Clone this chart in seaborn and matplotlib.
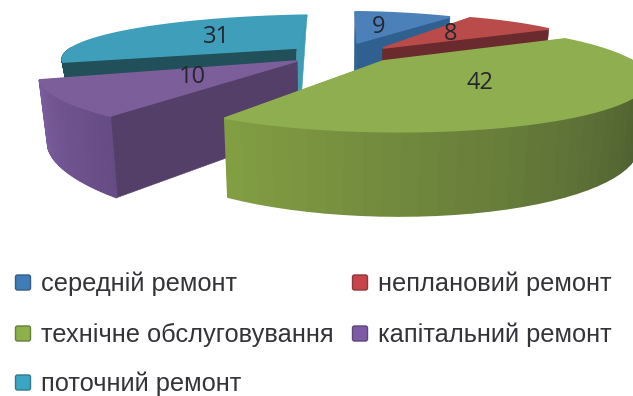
import numpy as np
import matplotlib
matplotlib.use("Agg")
import matplotlib.pyplot as plt
from matplotlib.patches import Polygon, FancyBboxPatch
from matplotlib.colors import to_rgb
import seaborn as sns

# Share of each repair type, clockwise from twelve o'clock
categories = ["середній ремонт", "неплановий ремонт", "технічне обслуговування",
              "капітальний ремонт", "поточний ремонт"]
values = [9, 8, 42, 10, 31]

# Surface colours per slice
top_colors = ["#4c80b8", "#b94c4a", "#8fae50", "#7c5f9a", "#3f9fbb"]
legend_colors = ["#3f7cb8", "#c8444a", "#8db04a", "#7d5aa6", "#3aa6c4"]
cut_colors = ["#30608f", "#6a2a2e", "#5f7a38", "#533f68", "#214f5a"]
back_colors = ["#30608f", "#6a2a2e", "#5f7a38", "#533f68", "#3f9cb5"]
wall_left = ["#30608f", "#6a2a2e", "#84a044", "#7a5c9c", "#214f5a"]
wall_right = ["#30608f", "#6a2a2e", "#3d4a2b", "#664c84", "#214f5a"]

# Exploded placement and oblique view of each slice, in pixels:
# apex x, apex y, A, T, B, S, p, q, wall height, vanishing x, taper
views = [
    (357, 43, 200, 2.5, 39, 6.5, .25, .15, 72, 330, .03),
    (383, 48, 189, 3.5, 41, 1.0, .25, .15, 70, 330, .03),
    (383, 61, 247, 16.8, 49.5, -1.6, .30, .0, 59, 330, .03),
    (297, 61, 286, -10.8, 57.5, 1.4, .25, .15, 71, 330, .03),
    (297, 48, 259, -12.5, 41, .4, .25, .15, 92, 250, .09),
]

W, H = 633, 396
sns.set_theme(style="white")
plt.rcParams["font.family"] = ["Liberation Sans", "DejaVu Sans"]

fig = plt.figure(figsize=(W / 100, H / 100), dpi=100)
ax = fig.add_axes([0, 0, 1, 1])
ax.set_xlim(0, W)
ax.set_ylim(H, 0)
ax.axis("off")


def project(view, theta, r=1.0, down=0.0):
    """Map a point of the slice disc (clockwise angle, radius) to the page."""
    cx, cy, A, T, B, S, p, q, d, vx, taper = view
    X, Y = r * np.sin(theta), -r * np.cos(theta)
    w = 1 - p * Y - q * X
    sx = cx + (A * X + T * Y) / w
    sy = cy + (B * Y + S * X) / w
    if down:
        sy = sy + down * d / w
        sx = sx + down * (vx - sx) * taper
    return sx, sy


def blend(a, b, t):
    a, b = np.array(to_rgb(a)), np.array(to_rgb(b))
    return tuple(a + (b - a) * t)


fractions = np.array(values) / np.sum(values)
ends = 2 * np.pi * np.cumsum(fractions)
starts = ends - 2 * np.pi * fractions

# Paint back to front, so that nearer slices cover the ones behind them
for i in [0, 1, 4, 3, 2]:
    v = views[i]
    a0, a1 = starts[i], ends[i]

    # Radial cut faces
    for ang, col in ((a1 if i != 4 else a0, cut_colors[i]),
                     (a0 if i != 4 else a1, back_colors[i])):
        quad = [project(v, ang, 0), project(v, ang, 1),
                project(v, ang, 1, 1), project(v, ang, 0, 1)]
        ax.add_patch(Polygon(quad, closed=True, fc=col, ec=col, lw=.4))

    # Outer wall, only where it faces the viewer; bands overlap to avoid seams
    lo, hi = max(a0, np.pi / 2), min(a1, 3 * np.pi / 2)
    if hi > lo:
        th = np.linspace(lo, hi, 40)
        for k in range(len(th) - 1):
            t = 1 - (th[k] - lo) / (hi - lo)
            col = blend(wall_left[i], wall_right[i], t)
            quad = [project(v, th[k]), project(v, th[k + 1]),
                    project(v, th[k + 1], 1, 1), project(v, th[k], 1, 1)]
            ax.add_patch(Polygon(quad, closed=True, fc=col, ec=col, lw=1.2,
                                 joinstyle="bevel"))

    # Top surface, its edge covering the overlap of the wall bands
    th = np.linspace(a0, a1, 90)
    rim = [project(v, t) for t in th]
    ax.add_patch(Polygon([project(v, a0, 0)] + rim, closed=True,
                         fc=top_colors[i], ec=top_colors[i], lw=1.2,
                         joinstyle="bevel"))

# Value labels
label_pos = [(379, 27), (451, 34), (480, 83), (192, 77), (217, 37)]
for val, (x, y) in zip(values, label_pos):
    ax.text(x, y, str(val), ha="center", va="center", fontsize=17,
            color="#26262e", family=["Open Sans", "DejaVu Sans"])

# Legend laid out in rows
slots = [(15, 283), (352, 283), (15, 334), (352, 334), (15, 383)]
for name, col, (x, y) in zip(categories, legend_colors, slots):
    ax.add_patch(FancyBboxPatch((x + .5, y - 8), 15, 15,
                                boxstyle="round,pad=0,rounding_size=2",
                                fc=col, ec=blend(col, "#222222", .35), lw=1))
    ax.text(x + 26, y - 2, name, ha="left", va="center_baseline", fontsize=18.3,
            color="#333338")

fig.savefig("out.png", dpi=100)
